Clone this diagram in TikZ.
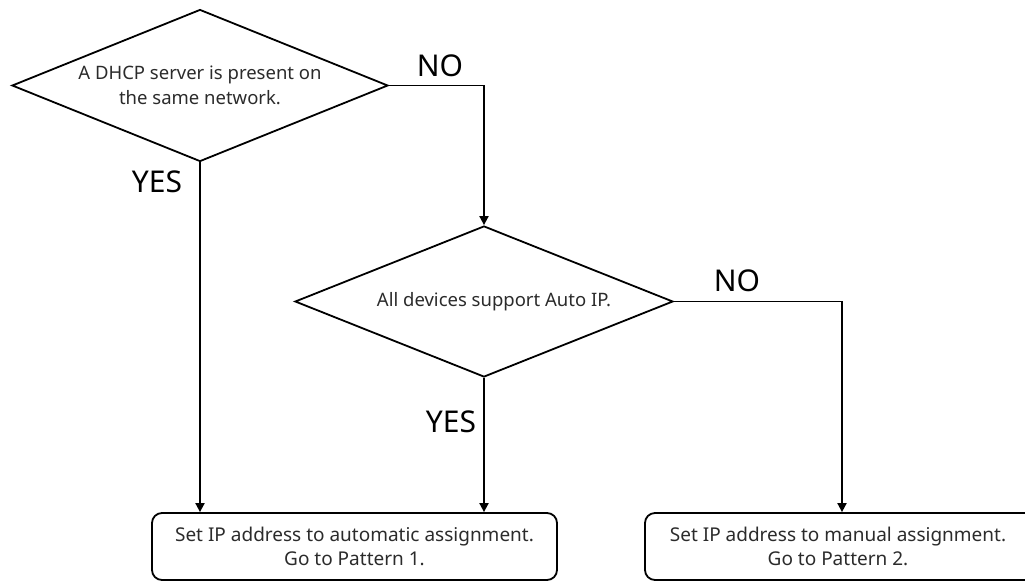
\documentclass[tikz,border=0pt]{standalone}
\usepackage{fontspec}
\setmainfont{Noto Sans}
\usetikzlibrary{shapes.geometric,arrows.meta}
\definecolor{inkgrey}{HTML}{2B2B2B}
\tikzset{
  x=1pt, y=-1pt,
  flow/.style={line width=1.8pt, black},
  arr/.style={flow, -{Triangle[length=9pt,width=9pt]}},
  decision/.style={draw, line width=1.8pt, diamond, inner sep=0pt, align=center,
    text=inkgrey, font=\fontsize{18.5}{25.5}\selectfont},
  outcome/.style={draw, line width=1.8pt, rectangle, rounded corners=10pt, inner sep=0pt,
    align=center, text=inkgrey, font=\fontsize{19}{24.5}\selectfont},
  answer/.style={inner sep=0pt, text=black, font=\fontsize{30}{30}\selectfont},
}
\begin{document}
\begin{tikzpicture}
\useasboundingbox (0,0) rectangle (1025,582);

% decisions
\node[decision, minimum width=376pt, minimum height=152pt, aspect=2.47] (dhcp) at (200,85.5)
  {A DHCP server is present on\\the same network.};
\node[decision, minimum width=378pt, minimum height=151pt, aspect=2.5] (autoip) at (484,301.5)
  {\hspace*{20pt}All devices support Auto IP.};

% outcomes
\node[outcome, minimum width=405pt, minimum height=67pt] (auto) at (354.5,546.5)
  {Set IP address to automatic assignment.\\Go to Pattern 1.};
\node[outcome, minimum width=394pt, minimum height=67pt] (manual) at (842,546.5)
  {\hspace*{-8pt}Set IP address to manual assignment.\\\hspace*{-8pt}Go to Pattern 2.};

% connectors
\draw[arr] (dhcp.south) -- (dhcp.south |- auto.north);
\draw[arr] (dhcp.east) -| (autoip.north);
\draw[arr] (autoip.south) -- (autoip.south |- auto.north);
\draw[arr] (autoip.east) -| (manual.north);

% branch labels
\node[answer] (yes1) at (157,182) {YES};
\node[answer] (no1) at (440,66) {NO};
\node[answer] (yes2) at (451,422) {YES};
\node[answer] (no2) at (737,281) {NO};
\end{tikzpicture}
\end{document}
